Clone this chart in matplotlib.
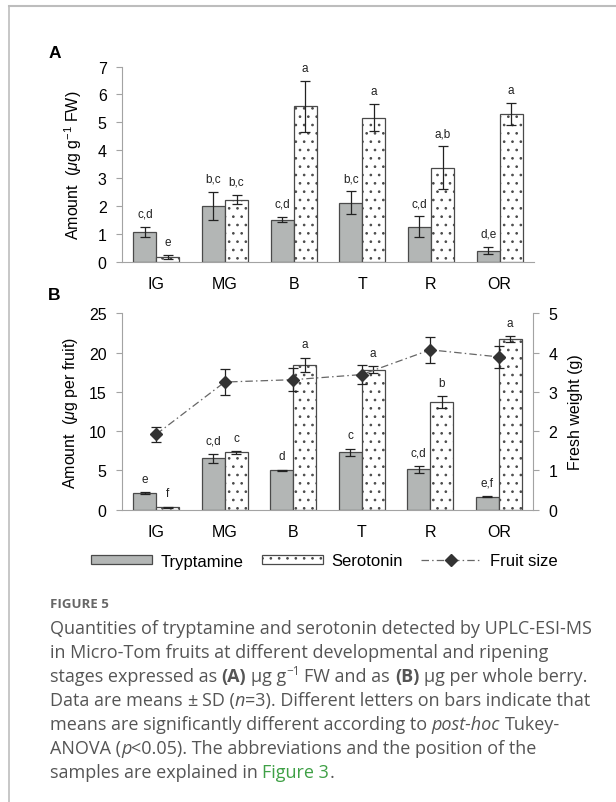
import numpy as np
import matplotlib.pyplot as plt
from matplotlib.patches import Patch
from matplotlib.lines import Line2D

plt.rcParams['font.family'] = ['Liberation Sans', 'DejaVu Sans']
plt.rcParams['mathtext.fontset'] = 'custom'
plt.rcParams['mathtext.rm'] = 'Liberation Sans'
plt.rcParams['mathtext.it'] = 'Liberation Sans:italic'
plt.rcParams['hatch.linewidth'] = 0.7

stages = ['IG', 'MG', 'B', 'T', 'R', 'OR']

# A: ug per g fresh weight
tryp_fw = [1.09, 2.00, 1.52, 2.13, 1.27, 0.41]
tryp_fw_sd = [0.18, 0.50, 0.10, 0.40, 0.36, 0.14]
sero_fw = [0.18, 2.23, 5.57, 5.17, 3.38, 5.29]
sero_fw_sd = [0.08, 0.17, 0.90, 0.47, 0.76, 0.40]
tryp_fw_letters = ['c,d', 'b,c', 'c,d', 'b,c', 'c,d', 'd,e']
sero_fw_letters = ['e', 'b,c', 'a', 'a', 'a,b', 'a']

# B: ug per fruit
tryp_fr = [2.12, 6.53, 5.04, 7.29, 5.13, 1.65]
tryp_fr_sd = [0.10, 0.57, 0.06, 0.50, 0.42, 0.08]
sero_fr = [0.30, 7.29, 18.43, 17.84, 13.69, 21.74]
sero_fr_sd = [0.10, 0.15, 0.93, 0.49, 0.74, 0.40]
tryp_fr_letters = ['e', 'c,d', 'd', 'c', 'c,d', 'e,f']
sero_fr_letters = ['f', 'c', 'a', 'a', 'b', 'a']

# fresh weight (g), right axis of B
fruit_size = [1.92, 3.25, 3.31, 3.44, 4.07, 3.89]
fruit_size_sd = [0.19, 0.32, 0.29, 0.24, 0.33, 0.28]

W, H = 616, 803
fig = plt.figure(figsize=(W / 100, H / 100), dpi=100)


def px_box(left, top, right, bottom):
    return [left / W, 1 - bottom / H, (right - left) / W, (bottom - top) / H]


axA = fig.add_axes(px_box(122, 67.5, 534, 263))
axB = fig.add_axes(px_box(122, 314.3, 533, 510.7))
axW = axB.twinx()

x = np.arange(len(stages))
bw = 0.335
gray = '#b3b6b5'
edge = '#4a4a4a'
spine_col = '#a3a3a3'
ekw = dict(ecolor='#222222', elinewidth=0.9, capsize=3.5, capthick=0.9)


def bar_panel(ax, tr, tr_sd, se, se_sd, tr_lab, se_lab):
    ax.bar(x, tr, -bw, align='edge', color=gray, edgecolor=edge, lw=0.9,
           yerr=tr_sd, error_kw=ekw)
    ax.bar(x, se, bw, align='edge', color='white', edgecolor=edge, lw=0.9,
           hatch='..', yerr=se_sd, error_kw=ekw)
    for i in range(len(stages)):
        ax.annotate(tr_lab[i], (x[i] - bw / 2, tr[i] + tr_sd[i]), xytext=(0, 9.5),
                    textcoords='offset points', ha='center', va='center',
                    fontsize=8.5, color='#222222')
        ax.annotate(se_lab[i], (x[i] + bw / 2, se[i] + se_sd[i]), xytext=(0, 9.5),
                    textcoords='offset points', ha='center', va='center',
                    fontsize=8.5, color='#222222')
    ax.set_xlim(-0.5, len(stages) - 0.5)
    ax.set_xticks(x, stages)
    for s in ['top', 'right']:
        ax.spines[s].set_visible(False)
    ax.spines['left'].set_color(spine_col)
    ax.spines['bottom'].set_color(spine_col)
    ax.tick_params(axis='x', length=0, pad=10, labelsize=11.5)
    ax.tick_params(axis='y', length=4, color=spine_col, pad=7, labelsize=11.5)


bar_panel(axA, tryp_fw, tryp_fw_sd, sero_fw, sero_fw_sd, tryp_fw_letters, sero_fw_letters)
axA.set_ylim(0, 7)
axA.set_yticks(range(0, 8))
axA.set_ylabel(r'Amount  ($\mu$g g$^{-1}$ FW)', fontsize=11.5)
axA.yaxis.set_label_coords(-0.092, 0.5)

bar_panel(axB, tryp_fr, tryp_fr_sd, sero_fr, sero_fr_sd, tryp_fr_letters, sero_fr_letters)
axB.set_ylim(0, 25)
axB.set_yticks(range(0, 26, 5))
axB.set_ylabel(r'Amount  ($\mu$g per fruit)', fontsize=11.5)
axB.yaxis.set_label_coords(-0.102, 0.5)

fruit_ls = (0, (6, 2.5, 1.2, 2.5))
axW.errorbar(x, fruit_size, yerr=fruit_size_sd, color='#666666', ls=fruit_ls, lw=0.9,
             marker='D', ms=6, mfc='#333333', mec='#333333',
             ecolor='#222222', elinewidth=0.9, capsize=3.5, capthick=0.9)
axW.set_ylim(0, 5)
axW.set_yticks(range(0, 6))
for s in ['top', 'left', 'bottom']:
    axW.spines[s].set_visible(False)
axW.spines['right'].set_color(spine_col)
axW.tick_params(axis='y', length=4, color=spine_col, pad=7, labelsize=11.5)
axW.set_ylabel('Fresh weight (g)', fontsize=11.5)
axW.yaxis.set_label_coords(1.085, 0.5)

fig.text(55 / W, 1 - 53 / H, 'A', weight='bold', fontsize=12.5, ha='center', va='center')
fig.text(54 / W, 1 - 296 / H, 'B', weight='bold', fontsize=12.5, ha='center', va='center')

handles = [
    Patch(facecolor=gray, edgecolor=edge, lw=0.9, label='Tryptamine'),
    Patch(facecolor='white', edgecolor=edge, lw=0.9, hatch='..', label='Serotonin'),
    Line2D([], [], color='#666666', ls=fruit_ls, lw=0.9, marker='D', ms=6,
           mfc='#333333', mec='#333333', label='Fruit size'),
]
fig.legend(handles=handles, loc='center', bbox_to_anchor=(324.5 / W, 1 - 562 / H), ncol=3,
           frameon=False, fontsize=12, handlelength=3.65, handleheight=0.4,
           handletextpad=0.5, columnspacing=1.1, borderpad=0)

# figure frame (top and left rule)
fig.add_artist(Line2D([9 / W, 9 / W], [0, 1 - 7 / H], transform=fig.transFigure,
                      color='#bdbdbd', lw=1.2))
fig.add_artist(Line2D([9 / W, 1], [1 - 7 / H, 1 - 7 / H], transform=fig.transFigure,
                      color='#bdbdbd', lw=1.5))

# caption
cap_font = ['Open Sans', 'DejaVu Sans']
cap_col = '#555555'
base_kw = dict(family=cap_font, fontsize=13, color=cap_col)
r = fig.canvas.get_renderer()


def seg_width(s, kw):
    t = fig.text(0, 0, s, **kw)
    w = t.get_window_extent(r).width
    t.remove()
    return w


space_w = seg_width('a a', base_kw) - seg_width('aa', base_kw)


def write_line(x0, base, parts):
    xp = x0
    for s, extra in parts:
        kw = dict(base_kw)
        kw.update(extra)
        dy = kw.pop('dy', 0)
        lead = len(s) - len(s.lstrip(' '))
        trail = len(s) - len(s.rstrip(' '))
        xp += lead * space_w
        core = s.strip(' ')
        if core:
            fig.text(xp / W, 1 - (base - dy) / H, core, ha='left', va='baseline', **kw)
            xp += seg_width(core, kw)
        xp += trail * space_w


fig.text(50 / W, 1 - 608 / H, 'FIGURE 5', family=cap_font, fontsize=9.5,
         weight='bold', color='#666666', ha='left', va='baseline')

bold = dict(weight='bold')
ital = dict(style='italic')
cap_lines = [
    [('Quantities of tryptamine and serotonin detected by UPLC-ESI-MS', {})],
    [('in Micro-Tom fruits at different developmental and ripening', {})],
    [('stages expressed as ', {}), ('(A)', bold), (' µg g', {}),
     ('\u22121', dict(fontsize=8.5, dy=6.5)), (' FW and as ', {}), ('(B)', bold),
     (' µg per whole berry.', {})],
    [('Data are means ', {}), ('±', {}), (' SD (', {}), ('n', ital),
     ('=3). Different letters on bars indicate that', {})],
    [('means are significantly different according to ', {}), ('post-hoc', ital),
     (' Tukey-', {})],
    [('ANOVA (', {}), ('p', ital),
     ('<0.05). The abbreviations and the position of the', {})],
    [('samples are explained in ', {}), ('Figure 3', dict(color='#3fa046')), ('.', {})],
]
for k, parts in enumerate(cap_lines):
    write_line(50, 634 + 24 * k, parts)

fig.savefig('out.png', dpi=100)
